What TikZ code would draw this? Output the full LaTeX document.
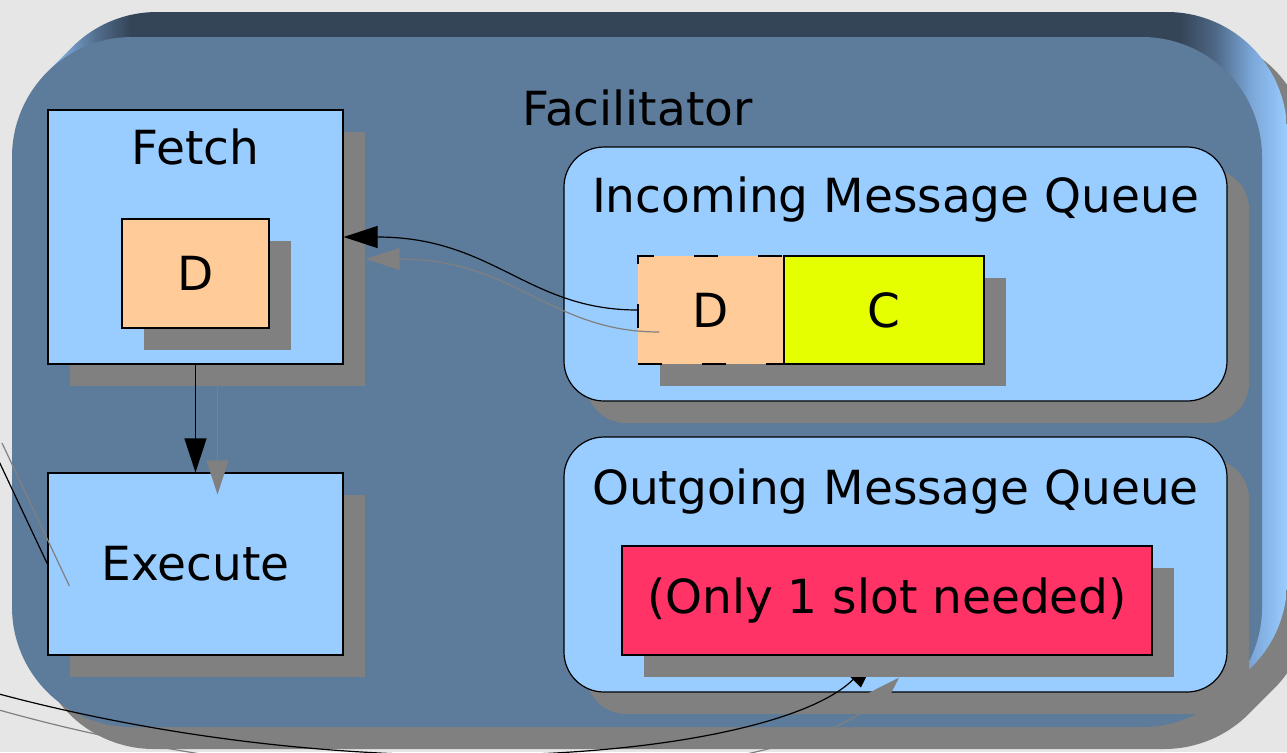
\documentclass[tikz,border=0pt]{standalone}
\usepackage{fontspec}
\setmainfont{DejaVu Sans}
\usepackage{tikz}
\usetikzlibrary{arrows.meta,shadows}

\definecolor{paper}{HTML}{E6E6E6}
\definecolor{facil}{HTML}{5D7B9A}
\definecolor{facildark}{HTML}{344558}
\definecolor{rimlight}{HTML}{7BA7D8}
\definecolor{rimmid}{HTML}{4F6987}
\definecolor{boxblue}{HTML}{99CCFF}
\definecolor{slotD}{HTML}{FFCC99}
\definecolor{slotC}{HTML}{E6FF00}
\definecolor{slotout}{HTML}{FF3366}
\definecolor{shadowgray}{HTML}{808080}

% rim of the facilitator: light on the sides, dark along the top
\pgfdeclarehorizontalshading{extrusion}{100bp}{color(0bp)=(rimlight); color(25bp)=(rimlight);
  color(26.9bp)=(rimlight); color(28.4bp)=(rimmid); color(29.6bp)=(facildark);
  color(70.8bp)=(facildark); color(72.2bp)=(rimmid); color(73.6bp)=(rimlight);
  color(75bp)=(boxblue); color(100bp)=(boxblue)}

\pgfdeclarelayer{back}
\pgfsetlayers{back,main}

\begin{document}
\begin{tikzpicture}[x=0.5pt,y=-0.5pt,
    every node/.style={font=\fontsize{23.5}{28}\selectfont},
    box/.style={draw,line width=0.6pt,fill=boxblue,
      drop shadow={shadow xshift=11pt,shadow yshift=-11pt,fill=shadowgray,opacity=1}},
    queue/.style={box,rounded corners=20pt},
    heading/.style={anchor=north,inner sep=0pt},
    wire/.style={line width=0.6pt},
    arrowwire/.style={wire,-{Triangle[length=17pt,width=11pt]}},
    ghost/.style={shadowgray}]
    \useasboundingbox (0,0) rectangle (1287,752);
    \clip (0,0) rectangle (1287,752);

    \begin{pgfonlayer}{back}
    \fill[paper] (0,0) rectangle (1287,752);
    % facilitator: drop shadow, raised rim, face
    \fill[shadowgray,rounded corners=60pt] \foreach \i in {0,...,25} {(34+\i,59-\i) rectangle (1284+\i,749-\i)};
    \shade[shading=extrusion,rounded corners=60pt] \foreach \i in {1,...,25} {(12+\i,37-\i) rectangle (1262+\i,727-\i)};
    \fill[facil,rounded corners=60pt] (12,37) rectangle (1262,727);

    \node[queue,minimum width=331.5pt,minimum height=127.5pt,
      label={[heading,yshift=-16pt]north:Outgoing Message Queue}] (outq) at (895.5,564.5) {};
    \end{pgfonlayer}

    \node[anchor=base] (facilitator) at (637.5,125) {Facilitator};

    \node[box,minimum width=147.5pt,minimum height=127pt,
      label={[heading,yshift=-9.5pt]north:Fetch}] (fetch) at (195.5,237) {};
    \node[box,fill=slotD,minimum width=73.5pt,minimum height=54.5pt] (fetchD) at (195.5,273.5) {D};
    \node[box,minimum width=147.5pt,minimum height=91pt] (execute) at (195.5,564) {Execute};

    \node[queue,minimum width=331.5pt,minimum height=127pt,
      label={[heading,yshift=-15pt]north:Incoming Message Queue}] (inq) at (895.5,274) {};
    \node[box,fill=slotD,dash pattern=on 12pt off 20pt,minimum width=73pt,minimum height=54pt] (inD) at (711,310) {D};
    \node[box,fill=slotC,minimum width=100pt,minimum height=54pt] (inC) at (884,310) {C};

    \node[box,fill=slotout,minimum width=265pt,minimum height=54.5pt] (outslot) at (887,600.5) {(Only 1 slot needed)};

    % connectors, each with its shadow
    \coordinate (fromleft) at (-20,421);
    \coordinate (frombelow) at (-30,686);

    \draw[arrowwire,ghost] ([shift={(22,22)}]inD.west) .. controls +(-110,0) and +(150,0) .. ([shift={(22,22)}]fetch.east);
    \draw[arrowwire] (inD.west) .. controls +(-110,0) and +(150,0) .. (fetch.east);

    \draw[arrowwire,ghost] ([shift={(22,22)}]fetch.south) -- ([shift={(22,22)}]execute.north);
    \draw[arrowwire] (fetch.south) -- (execute.north);

    \draw[wire,ghost] ([shift={(22,22)}]fromleft) -- ([shift={(22,22)}]execute.west);
    \draw[wire] (fromleft) -- (execute.west);

    \begin{pgfonlayer}{back}
    \draw[arrowwire,ghost] ([shift={(22,22)}]frombelow) .. controls +(400,114) and +(-100,100) .. ([shift={(22,22)},xshift=-5pt]outslot.south);
    \draw[arrowwire] (frombelow) .. controls +(400,114) and +(-100,100) .. ([xshift=-5pt]outslot.south);
    \end{pgfonlayer}
\end{tikzpicture}
\end{document}
